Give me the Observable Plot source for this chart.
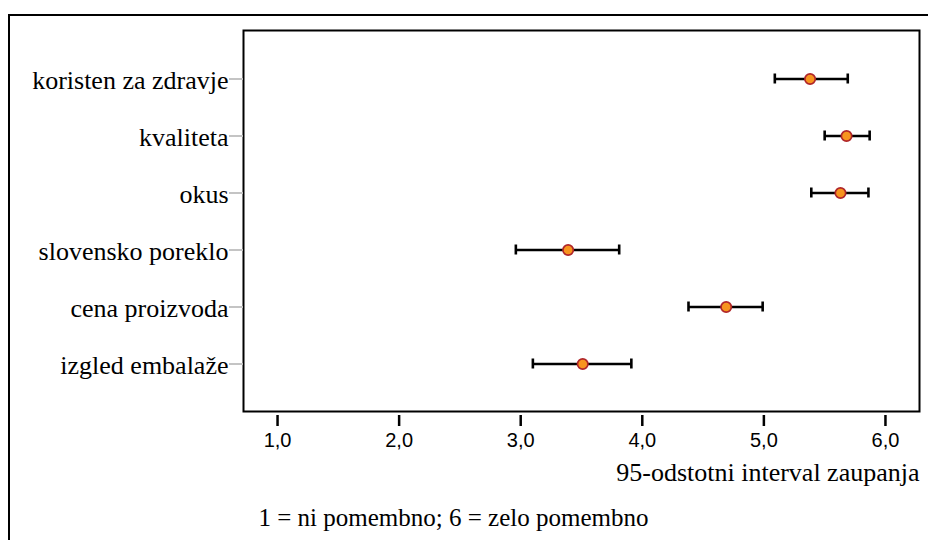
<!DOCTYPE html>
<html>
<head>
<meta charset="utf-8">
<script src="https://cdn.jsdelivr.net/npm/d3@7"></script>
<script src="https://cdn.jsdelivr.net/npm/@observablehq/plot@0.6"></script>
<style>
  html, body { margin: 0; padding: 0; background: #fff; overflow: hidden; width: 928px; height: 540px; }
  #wrap { position: relative; width: 928px; height: 540px; }
  #border { position: absolute; left: 8px; top: 14px; width: 960px; height: 600px; border: 2px solid #000; pointer-events: none; }
</style>
</head>
<body>
<div id="wrap"><div id="border"></div></div>
<script>
const categories = ["koristen za zdravje", "kvaliteta", "okus", "slovensko poreklo", "cena proizvoda", "izgled embalaže"];
const means = [5.38, 5.68, 5.63, 3.39, 4.69, 3.51];
const lows  = [5.09, 5.50, 5.39, 2.96, 4.38, 3.10];
const highs = [5.69, 5.87, 5.86, 3.81, 4.99, 3.91];
const xTicks = [1, 2, 3, 4, 5, 6];
const xTickLabels = ["1,0", "2,0", "3,0", "4,0", "5,0", "6,0"];
const axisTitle = ["95-odstotni interval zaupanja"];
const captionText = ["1 = ni pomembno; 6 = zelo pomembno"];

const data = categories.map((c, i) => ({cat: c, mean: means[i], lo: lows[i], hi: highs[i]}));

const serif = "'Liberation Serif', 'Times New Roman', serif";
const sans = "'Liberation Sans', Arial, sans-serif";

const chart = Plot.plot({
  width: 928,
  height: 540,
  marginLeft: 243,
  marginRight: 9,
  marginTop: 30,
  marginBottom: 129,
  style: {background: "transparent", color: "#000"},
  x: {domain: [0.72, 6.28]},
  y: {type: "band", domain: categories, paddingInner: 0, paddingOuter: 0.31},
  marks: [
    Plot.frame({stroke: "#000", strokeWidth: 2}),
    // y ticks (gray) and labels
    Plot.axisY({tickSize: 14, stroke: "#c4c4c4", strokeWidth: 2, fill: "none", label: null}),
    Plot.axisY({tickSize: 0, tickPadding: 15, dy: 1.5, fontSize: 26, fontFamily: serif, fill: "#000", label: null}),
    // x ticks and labels
    Plot.axisX({ticks: xTicks, tickSize: 11, dy: 4, stroke: "#000", strokeWidth: 2.5, fill: "none", label: null}),
    Plot.axisX({ticks: xTicks, tickSize: 0, tickPadding: 21, tickFormat: (d) => xTickLabels[xTicks.indexOf(d)], fontSize: 20, fontFamily: sans, fill: "#000", label: null}),
    // error bars
    Plot.ruleY(data, {y: "cat", x1: "lo", x2: "hi", stroke: "#000", strokeWidth: 2.6}),
    Plot.tickX(data, {x: "lo", y: "cat", stroke: "#000", strokeWidth: 2.6, insetTop: 23.5, insetBottom: 23.5}),
    Plot.tickX(data, {x: "hi", y: "cat", stroke: "#000", strokeWidth: 2.6, insetTop: 23.5, insetBottom: 23.5}),
    Plot.dot(data, {x: "mean", y: "cat", r: 5.2, fill: "#f7941e", stroke: "#b0262a", strokeWidth: 1.7}),
    // axis title and caption
    Plot.text(axisTitle, {frameAnchor: "bottom-right", textAnchor: "end", lineAnchor: "middle", dx: 0, dy: 61, fontSize: 26, fontFamily: serif, fill: "#000"}),
    Plot.text(captionText, {frameAnchor: "bottom-left", textAnchor: "start", lineAnchor: "middle", dx: 15, dy: 106, fontSize: 25, fontFamily: serif, fill: "#000"})
  ]
});
chart.style.position = "absolute";
chart.style.left = "0px";
chart.style.top = "0px";
document.getElementById("wrap").insertBefore(chart, document.getElementById("border"));
</script>
</body>
</html>
